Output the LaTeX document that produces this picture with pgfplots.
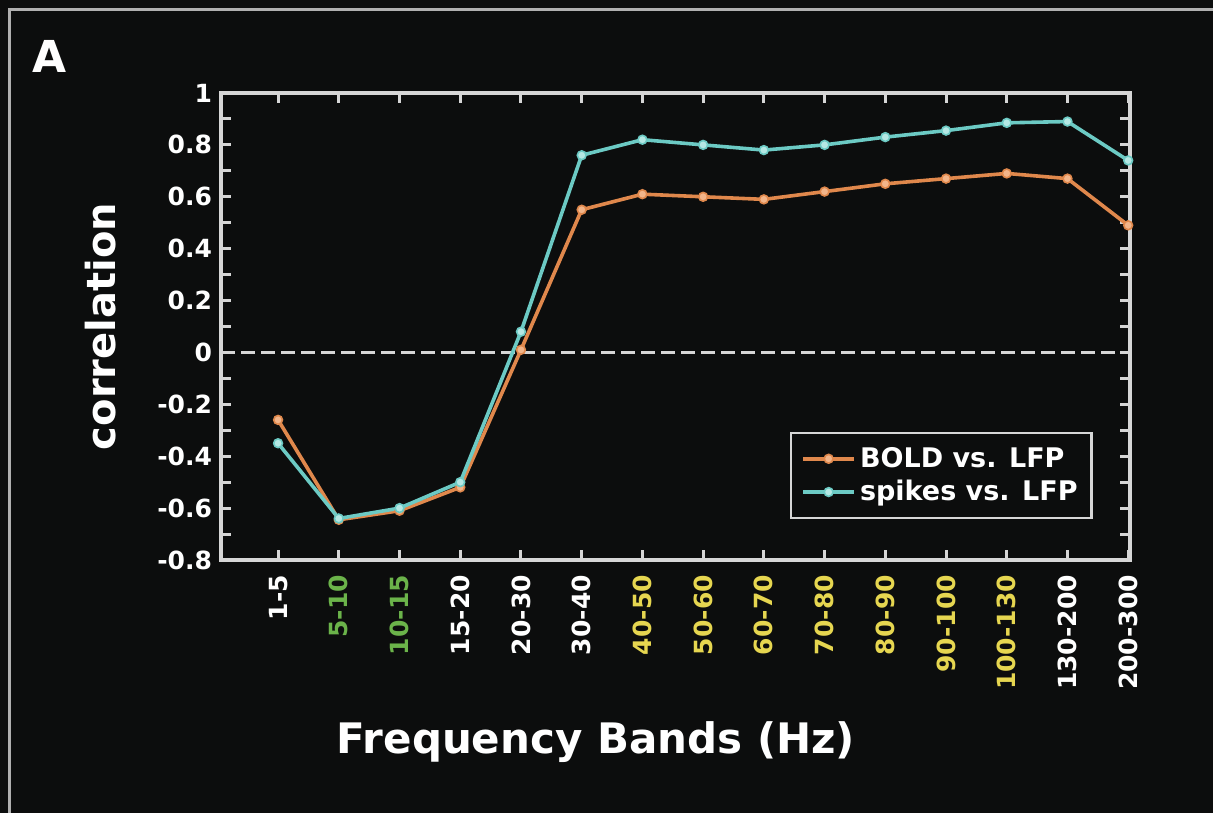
\documentclass[border=0pt]{standalone}
\usepackage{pgfplots}
\pgfplotsset{compat=1.18}
\usepackage{fontspec}
\setmainfont{DejaVu Sans}
\definecolor{bg}{HTML}{0C0D0D}
\definecolor{axc}{HTML}{D6D6D6}
\definecolor{boldc}{HTML}{E0884C}
\definecolor{boldm}{HTML}{F2B58A}
\definecolor{spkc}{HTML}{6CCAC4}
\definecolor{spkm}{HTML}{B5E8E4}
\definecolor{gr}{HTML}{6BB34A}
\definecolor{yl}{HTML}{E6D650}
\definecolor{frame}{HTML}{B0B0B0}
\begin{document}
\begin{tikzpicture}
\fill[bg] (0,0) rectangle (606.5pt,406.5pt);
\useasboundingbox (0,0) rectangle (606.5pt,406.5pt);
\draw[frame,line width=1.5pt] (4.5pt,0) -- (4.5pt,401.5pt) -- (606.5pt,401.5pt);
\node[text=white,font=\bfseries\fontsize{22}{24}\selectfont] at (25pt,378.5pt) {A};
\begin{axis}[
  at={(110.5pt,126.5pt)}, anchor=south west,
  scale only axis, width=454.5pt, height=233.5pt,
  xmin=-0.94, xmax=14.03, ymin=-0.8, ymax=1,
  axis line style={axc,line width=2pt},
  every tick/.style={axc,line width=1.5pt},
  tick align=inside, major tick length=5pt, minor tick length=5pt,
  xtick={0,...,14},
  xticklabels={1-5,\textcolor{gr}{5-10},\textcolor{gr}{10-15},15-20,20-30,30-40,\textcolor{yl}{40-50},\textcolor{yl}{50-60},\textcolor{yl}{60-70},\textcolor{yl}{70-80},\textcolor{yl}{80-90},\textcolor{yl}{90-100},\textcolor{yl}{100-130},130-200,200-300},
  xticklabel style={rotate=90,anchor=east,xshift=-4pt,text=white,font=\bfseries\fontsize{12.5}{14}\selectfont},
  ytick={-0.8,-0.6,-0.4,-0.2,0,0.2,0.4,0.6,0.8,1},
  yticklabels={-0.8,-0.6,-0.4,-0.2,0,0.2,0.4,0.6,0.8,1},
  minor ytick={-0.7,-0.5,-0.3,-0.1,0.1,0.3,0.5,0.7,0.9},
  yticklabel style={text=white,font=\bfseries\fontsize{12.5}{14}\selectfont,xshift=-1pt},
  xlabel={Frequency Bands (Hz)},
  xlabel style={at={(axis description cs:0.4125,-0.39)},anchor=center,text=white,font=\bfseries\fontsize{21}{24}\selectfont},
  ylabel={correlation},
  ylabel style={at={(axis description cs:-0.133,0.5)},anchor=center,text=white,font=\bfseries\fontsize{20}{24}\selectfont},
  legend style={at={(axis description cs:0.626,0.274)},anchor=north west,fill=bg,draw=axc,line width=1.2pt,text=white,font=\bfseries\fontsize{13.5}{16}\selectfont,inner xsep=5pt,inner ysep=5pt,row sep=1pt},
  legend image code/.code={\draw[mark repeat=2,mark phase=2] plot coordinates {(0cm,0cm) (0.45cm,0cm) (0.9cm,0cm)};},
  legend cell align=left,
  clip=false,
]
\addplot[axc,line width=1.5pt,dash pattern=on 7pt off 3pt,forget plot] coordinates {(-0.94,0) (14.03,0)};
\addplot[boldc,line width=1.8pt,mark=*,mark size=2.2pt,mark options={fill=boldm,draw=boldc,line width=0.8pt}] coordinates {
(0,-0.26) (1,-0.645) (2,-0.61) (3,-0.52) (4,0.01) (5,0.55) (6,0.61) (7,0.60) (8,0.59) (9,0.62) (10,0.65) (11,0.67) (12,0.69) (13,0.67) (14,0.49)};
\addlegendentry{BOLD vs. LFP}
\addplot[spkc,line width=1.8pt,mark=*,mark size=2.2pt,mark options={fill=spkm,draw=spkc,line width=0.8pt}] coordinates {
(0,-0.35) (1,-0.64) (2,-0.60) (3,-0.50) (4,0.08) (5,0.76) (6,0.82) (7,0.80) (8,0.78) (9,0.80) (10,0.83) (11,0.855) (12,0.885) (13,0.89) (14,0.74)};
\addlegendentry{spikes vs. LFP}
\end{axis}
\end{tikzpicture}
\end{document}
